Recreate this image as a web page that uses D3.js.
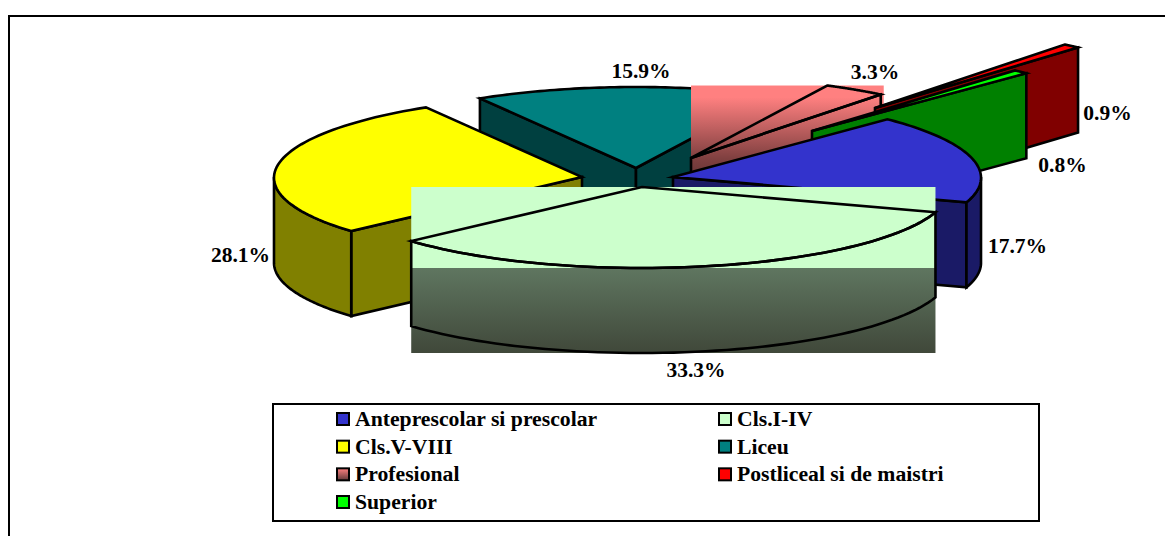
<!DOCTYPE html>
<html>
<head>
<meta charset="utf-8">
<script src="https://cdn.jsdelivr.net/npm/d3@7"></script>
<style>
  html, body { margin: 0; padding: 0; background: #fff; overflow: hidden; }
  text { font-family: "Liberation Serif", "Times New Roman", serif; font-weight: bold; fill: #000; }
</style>
</head>
<body>
<div id="chart"></div>
<script>
// Values, in drawing order of the pie (clockwise)
const categories = ["Anteprescolar si prescolar", "Cls.I-IV", "Cls.V-VIII", "Liceu", "Profesional", "Postliceal si de maistri", "Superior"];
const shares = [17.7, 33.3, 28.1, 15.9, 3.3, 0.9, 0.8];
const percentLabels = ["17.7%", "33.3%", "28.1%", "15.9%", "3.3%", "0.9%", "0.8%"];

// Styles
const topColors = ["#3333CC", "#CCFFCC", "#FFFF00", "#008080", "#FF8080", "#FF0000", "#00FF00"];
const wallColors = ["#1A1A66", "#5C725C", "#808000", "#004040", "#804040", "#800000", "#008000"];

// Layout
const width = 1165, height = 536;
const cx = 640, cy = 177;
const rx = 308, ry = 81, depth = 85;
const startDeg = 44.5;
// back of the pie looks a bit narrower than the front
const perspective = 0.01;
// how far each slice is pulled out of the pie
const explodeX = [33, 2, -58, -4, 51, 235, 172];
const explodeY = [0, 10, 0, -9, -19, -69, -46];
const labelX = [1017.5, 696, 240.5, 641, 875, 1107.5, 1062.5];
const labelY = [253, 377, 262, 78, 79, 120, 172];
// back to front
const drawOrder = [3, 4, 5, 6, 2, 0, 1];

const svg = d3.select("#chart").append("svg")
    .attr("width", width).attr("height", height);

const defs = svg.append("defs");

function addGradient(id, stops) {
    const g = defs.append("linearGradient").attr("id", id)
        .attr("x1", 0).attr("y1", 0).attr("x2", 0).attr("y2", 1);
    stops.forEach(s => g.append("stop").attr("offset", s[0]).attr("stop-color", s[1]));
}
addGradient("pinkFade", [[0, "#FF8080"], [0.12, "#FF8080"], [0.74, "#804040"], [1, "#5E3232"]]);
addGradient("greenWall", [[0, "#5F7660"], [1, "#40483A"]]);
addGradient("pinkSwatch", [[0, "#FF8080"], [1, "#603838"]]);

// outer frame, top and left only, runs off the page
svg.append("path")
    .attr("d", `M9,${height}V16H${width}`)
    .attr("fill", "none").attr("stroke", "#000").attr("stroke-width", 2);

const x = d3.scaleLinear().domain([-1, 1]).range([-rx, rx]);
const y = d3.scaleLinear().domain([-1, 1]).range([-ry, ry]);

const slices = d3.pie().sort(null)
    .startAngle(startDeg * Math.PI / 180)
    .endAngle((startDeg + 360) * Math.PI / 180)(shares);

const line = d3.line();

function rim(i, a, dy = 0) {
    return [
        cx + explodeX[i] + x(Math.sin(a)) * (1 - perspective * Math.cos(a)),
        cy + explodeY[i] + y(-Math.cos(a)) + dy
    ];
}

function arcPoints(i, a0, a1, dy = 0) {
    return d3.range(0, 61).map(k => rim(i, a0 + (a1 - a0) * k / 60, dy));
}

const stroke = g => g.attr("stroke", "#000").attr("stroke-width", 2.6)
    .attr("stroke-linejoin", "miter").attr("stroke-miterlimit", 6);

function poly(g, pts, fill) {
    g.append("path").attr("d", line(pts) + "Z").attr("fill", fill).call(stroke);
}

function bounds(i, a0, a1) {
    const pts = arcPoints(i, a0, a1).concat([[cx + explodeX[i], cy + explodeY[i]]]);
    return {
        x0: d3.min(pts, p => p[0]), x1: d3.max(pts, p => p[0]),
        y0: d3.min(pts, p => p[1]), y1: d3.max(pts, p => p[1])
    };
}

const pieG = svg.append("g");

drawOrder.forEach(i => {
    const s = slices[i];
    const a0 = s.startAngle, a1 = s.endAngle;
    const ax = cx + explodeX[i], ay = cy + explodeY[i];
    const apex = [ax, ay], apexLow = [ax, ay + depth];
    const g = pieG.append("g");

    // the two gradient slices paint their bounding box, as in the original
    if (i === 4 || i === 1) {
        const b = bounds(i, a0, a1);
        const fillId = i === 4 ? "pinkFade" : "greenWall";
        if (i === 4) {
            g.append("rect").attr("x", b.x0).attr("y", b.y0)
                .attr("width", b.x1 - b.x0 + 3).attr("height", b.y1 - b.y0 + 26)
                .attr("fill", `url(#${fillId})`);
        } else {
            g.append("rect").attr("x", b.x0).attr("y", b.y0)
                .attr("width", b.x1 - b.x0).attr("height", b.y1 - b.y0)
                .attr("fill", topColors[i]);
            g.append("rect").attr("x", b.x0).attr("y", b.y1)
                .attr("width", b.x1 - b.x0).attr("height", depth)
                .attr("fill", `url(#${fillId})`);
        }
    }

    const noFill = i === 4 || i === 1;

    // radial walls facing the viewer
    if (Math.sin(a0) < 0) {
        poly(g, [apex, rim(i, a0), rim(i, a0, depth), apexLow], noFill ? "none" : wallColors[i]);
    }
    if (Math.sin(a1) > 0) {
        poly(g, [apex, rim(i, a1), rim(i, a1, depth), apexLow], noFill ? "none" : wallColors[i]);
    }

    // outer wall, lower half of the ellipse only
    const w0 = Math.max(a0, Math.PI / 2), w1 = Math.min(a1, Math.PI * 1.5);
    if (w1 > w0) {
        const top = arcPoints(i, w0, w1);
        const low = arcPoints(i, w1, w0, depth);
        poly(g, top.concat(low), noFill ? "none" : wallColors[i]);
    }

    // top face
    poly(g, [apex].concat(arcPoints(i, a0, a1)), noFill ? "none" : topColors[i]);
});

// percent labels
svg.selectAll(".pct")
    .data(percentLabels)
    .join("text")
    .attr("class", "pct")
    .attr("x", (d, i) => labelX[i])
    .attr("y", (d, i) => labelY[i])
    .attr("text-anchor", "middle")
    .style("font-size", "21.5px")
    .text(d => d);

// legend
const legendX = 273, legendY = 404, legendW = 766, legendH = 117;
svg.append("rect")
    .attr("x", legendX).attr("y", legendY)
    .attr("width", legendW).attr("height", legendH)
    .attr("fill", "#fff").attr("stroke", "#000").attr("stroke-width", 2);

const swatchFill = ["#3333CC", "#CCFFCC", "#FFFF00", "#008080", "url(#pinkSwatch)", "#FF0000", "#00FF00"];
const col = d3.scaleOrdinal().domain([0, 1]).range([337, 719]);
const row = d3.scaleLinear().domain([0, 3]).range([419, 502]);

const items = svg.selectAll(".item").data(categories).join("g")
    .attr("class", "item")
    .attr("transform", (d, i) => `translate(${col(i % 2)},${row(Math.floor(i / 2))})`);

items.append("rect")
    .attr("x", 0).attr("y", -6).attr("width", 12).attr("height", 12)
    .attr("fill", (d, i) => swatchFill[i])
    .attr("stroke", "#000").attr("stroke-width", 2);

items.append("text")
    .attr("x", 18).attr("y", 7)
    .style("font-size", "21.7px")
    .text(d => d);
</script>
</body>
</html>
